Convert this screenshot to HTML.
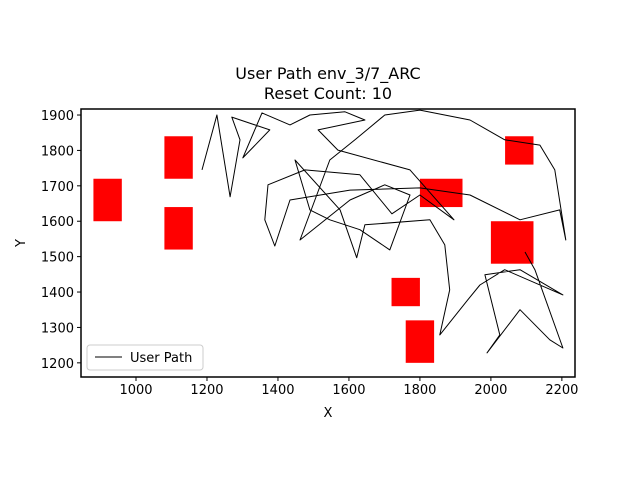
<!DOCTYPE html>
<html><head><meta charset="utf-8"><style>
body{margin:0;background:#fff;font-family:"Liberation Sans",sans-serif}
svg text{font-family:"DejaVu Sans","Liberation Sans",sans-serif;fill:#000}
</style></head><body>
<svg id="chart" width="640" height="480">
<text x="328" y="79" text-anchor="middle" font-size="16">User Path env_3/7_ARC</text>
<text x="328" y="99" text-anchor="middle" font-size="16">Reset Count: 10</text>
<g id="rects"></g>
<g id="plot"></g>
<g id="axes"></g>
<text x="328" y="417" text-anchor="middle" font-size="13">X</text>
<text x="25" y="243" text-anchor="middle" font-size="13" transform="rotate(-90 25 243)">Y</text>
<g>
<rect x="87" y="345" width="116" height="25" fill="#fff" stroke="#ccc" rx="3"/>
<line x1="95" y1="357" x2="122" y2="357" stroke="#000" stroke-width="1"/>
<text x="130" y="362" font-size="13">User Path</text>
</g>
</svg>
<script>
const xTicks=[1000,1200,1400,1600,1800,2000,2200];
const yTicks=[1200,1300,1400,1500,1600,1700,1800,1900];
const obsX=[880,1080,1080,1800,2040,2000,1720,1760];
const obsY=[1600,1720,1520,1640,1760,1480,1360,1200];
const obsW=[80,80,80,120,80,120,80,80];
const obsH=[120,120,120,80,80,120,80,120];
const pathX=[1186,1228,1265,1293,1270,1377,1301,1355,1434,1490,1589,1645,1513,1569,1772,1896,1800,1721,1631,1476,1372,1363,1391,1434,1603,1800,1941,2082,2194,2211,2180,2138,2039,1941,1800,1701,1617,1546,1462,1603,1701,1772,1715,1631,1546,1490,1448,1575,1622,1645,1828,1870,1884,1856,1935,1969,2039,2203,2082,1983,2025,1989,2082,2166,2203,2124,2096];
const pathY=[1745,1900,1669,1830,1894,1858,1779,1906,1872,1900,1909,1886,1858,1801,1745,1604,1674,1621,1731,1745,1703,1604,1530,1660,1688,1694,1674,1604,1632,1547,1745,1815,1830,1886,1914,1900,1830,1773,1547,1660,1703,1674,1519,1576,1604,1632,1773,1632,1497,1590,1604,1533,1406,1279,1378,1420,1463,1392,1463,1449,1279,1228,1350,1265,1242,1463,1513];
const L=81,R=575,T=109,B=377,xMin=845,xMax=2237,yMin=1160,yMax=1917;
const sx=v=>L+(v-xMin)/(xMax-xMin)*(R-L);
const sy=v=>B-(v-yMin)/(yMax-yMin)*(B-T);
const NS="http://www.w3.org/2000/svg";
function mk(t,a,p){const e=document.createElementNS(NS,t);for(const k in a)e.setAttribute(k,a[k]);p.appendChild(e);return e;}
const rg=document.getElementById('rects');
for(let i=0;i<obsX.length;i++){
 const r=mk('rect',{x:sx(obsX[i]),y:sy(obsY[i]+obsH[i]),width:sx(obsX[i]+obsW[i])-sx(obsX[i]),height:sy(obsY[i])-sy(obsY[i]+obsH[i]),fill:'#ff0000'},rg);
 
 
}
const pg=document.getElementById('plot');
const pts=pathX.map((x,i)=>sx(x).toFixed(1)+','+sy(pathY[i]).toFixed(1)).join(' ');
const pl=mk('polyline',{points:pts,fill:'none',stroke:'#000','stroke-width':1,'stroke-linejoin':'round'},pg);


const ag=document.getElementById('axes');
const fr=mk('rect',{x:L,y:T,width:R-L,height:B-T,fill:'none',stroke:'#000','stroke-width':1.5},ag);


xTicks.forEach(v=>{
 mk('line',{x1:sx(v),x2:sx(v),y1:B,y2:B+4,stroke:'#000'},ag);
 const t=mk('text',{x:sx(v),y:B+17,'text-anchor':'middle','font-size':13},ag);t.textContent=v;
 
 
});
yTicks.forEach(v=>{
 mk('line',{x1:L-4,x2:L,y1:sy(v),y2:sy(v),stroke:'#000'},ag);
 const t=mk('text',{x:L-7,y:sy(v)+5,'text-anchor':'end','font-size':13},ag);t.textContent=v;
 
 
});
</script>
</body></html>
